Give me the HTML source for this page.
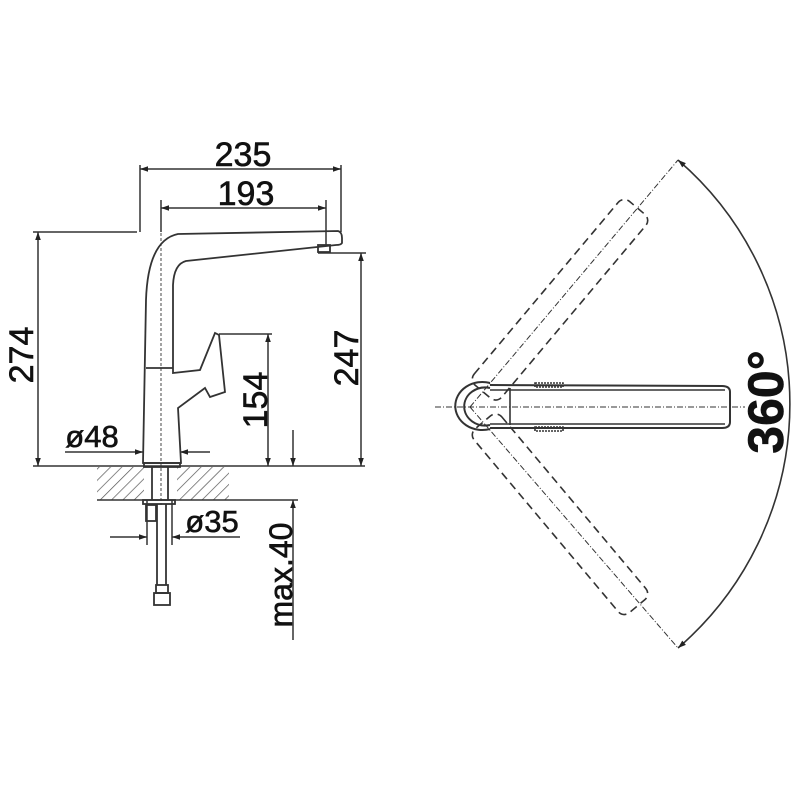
<!DOCTYPE html>
<html><head><style>body{margin:0;background:#fff}svg{display:block}</style></head><body>
<svg width="800" height="800" viewBox="0 0 800 800" xmlns="http://www.w3.org/2000/svg" font-family="Liberation Sans, sans-serif">
<defs>
<marker id="a" viewBox="0 0 10 10" refX="10" refY="5" markerWidth="13" markerHeight="8" orient="auto-start-reverse" markerUnits="userSpaceOnUse"><path d="M0,1.5L10,5L0,8.5z" fill="#222"/></marker>
<pattern id="h" width="8" height="8" patternUnits="userSpaceOnUse" patternTransform="rotate(45)"><line x1="0" y1="0" x2="0" y2="8" stroke="#555" stroke-width="1.4"/></pattern>
</defs>
<g stroke="#333" stroke-width="1.5" fill="none">
<line x1="140" y1="165" x2="140" y2="232"/>
<line x1="341" y1="165" x2="341" y2="232"/>
<line x1="161" y1="200" x2="161" y2="232"/>
<line x1="326" y1="200" x2="326" y2="246"/>
<line x1="33" y1="232" x2="137" y2="232"/>
<line x1="33" y1="466" x2="365" y2="466"/>
<line x1="318" y1="253" x2="366" y2="253"/>
<line x1="219" y1="334" x2="272" y2="334"/>
<line x1="229" y1="500" x2="298" y2="500"/>
<line x1="140" y1="169" x2="341" y2="169" marker-start="url(#a)" marker-end="url(#a)"/>
<line x1="161" y1="208" x2="326" y2="208" marker-start="url(#a)" marker-end="url(#a)"/>
<line x1="38" y1="232" x2="38" y2="466" marker-start="url(#a)" marker-end="url(#a)"/>
<line x1="361" y1="253" x2="361" y2="466" marker-start="url(#a)" marker-end="url(#a)"/>
<line x1="268" y1="334" x2="268" y2="466" marker-start="url(#a)" marker-end="url(#a)"/>
<line x1="65" y1="452" x2="143" y2="452" marker-end="url(#a)"/>
<line x1="210" y1="452" x2="180" y2="452" marker-end="url(#a)"/>
<line x1="110" y1="537" x2="147" y2="537" marker-end="url(#a)"/>
<line x1="240" y1="537" x2="172" y2="537" marker-end="url(#a)"/>
<line x1="147" y1="500" x2="147" y2="545"/>
<line x1="172" y1="500" x2="172" y2="545"/>
<line x1="293" y1="430" x2="293" y2="466" marker-end="url(#a)"/>
<line x1="293" y1="640" x2="293" y2="500" marker-end="url(#a)"/>
<rect x="97" y="467" width="47" height="33" fill="url(#h)" stroke="none"/>
<rect x="177" y="467" width="52" height="33" fill="url(#h)" stroke="none"/>
<line x1="97" y1="500" x2="229" y2="500"/>
<g stroke-width="1.8">
<path d="M143,463 L146,300 Q148,240 178,234 L338,231 Q342,232 342,238 L342,243 Q341,245 336,245 L186,261 Q174,264 173,285 L173,373 L200,370 L215,333 L219,335 L225,392 L210,397 L205,388 L178,408 L181,463 Z"/>
<line x1="146" y1="368" x2="173" y2="368"/>
<rect x="318" y="245" width="12" height="7"/>
<rect x="144" y="463" width="36" height="4"/>
<line x1="152" y1="467" x2="152" y2="500"/><line x1="168" y1="467" x2="168" y2="500"/>
<rect x="143" y="500" width="32" height="4"/>
<rect x="146" y="505" width="10" height="16"/>
<line x1="157" y1="504" x2="157" y2="585"/><line x1="166" y1="504" x2="166" y2="585"/>
<rect x="156" y="585" width="12" height="8"/>
<rect x="154" y="593" width="16" height="12"/>
</g>
<line x1="161" y1="208" x2="161" y2="505" stroke-dasharray="3,2" stroke-width="0.9"/>
</g>
<g font-size="34" fill="#111" text-anchor="middle" stroke="#111" stroke-width="0.6">
<text x="243" y="166">235</text>
<text x="246" y="205">193</text>
<text x="92" y="447" font-size="31">ø48</text>
<text x="212" y="532" font-size="31">ø35</text>
<text transform="translate(33,355) rotate(-90)">274</text>
<text transform="translate(267,400) rotate(-90)">154</text>
<text transform="translate(358,358) rotate(-90)">247</text>
<text transform="translate(292,575) rotate(-90)" font-size="32">max.40</text>
<text transform="translate(783,402) rotate(-90)" font-size="50" font-weight="bold">360°</text>
</g>
<g stroke="#333" stroke-width="1.6" fill="none">
<path d="M678,160 A322,322 0 0 1 678,648" marker-start="url(#a)" marker-end="url(#a)"/>
<line x1="470" y1="407" x2="678" y2="160" stroke-dasharray="6,2,1,2" stroke-width="1"/>
<line x1="470" y1="407" x2="678" y2="648" stroke-dasharray="6,2,1,2" stroke-width="1"/>
<line x1="435" y1="407" x2="745" y2="407" stroke-dasharray="6,2,1,2" stroke-width="1"/>
<g stroke-dasharray="8,5">
<g transform="rotate(-50 470 407)"><rect x="490" y="389" width="240" height="36" rx="8"/></g>
<g transform="rotate(50 470 407)"><rect x="490" y="389" width="240" height="36" rx="8"/></g>
</g>
<g stroke-width="2">
<path d="M490,383 A27,24 0 1 0 490,429"/>
<path d="M490,388 A21,19 0 1 0 490,425"/>
<path d="M490,385 L722,386 Q730,386 730,392 L730,422 Q730,428 722,428 L490,428"/>
</g>
<line x1="510" y1="388" x2="510" y2="425"/>
<line x1="490" y1="390" x2="725" y2="390"/>
<line x1="490" y1="424" x2="725" y2="424"/>
<rect x="535" y="383" width="28" height="4" stroke-dasharray="2,1"/>
<rect x="535" y="427" width="28" height="4" stroke-dasharray="2,1"/>
</g>
</svg>
</body></html>
